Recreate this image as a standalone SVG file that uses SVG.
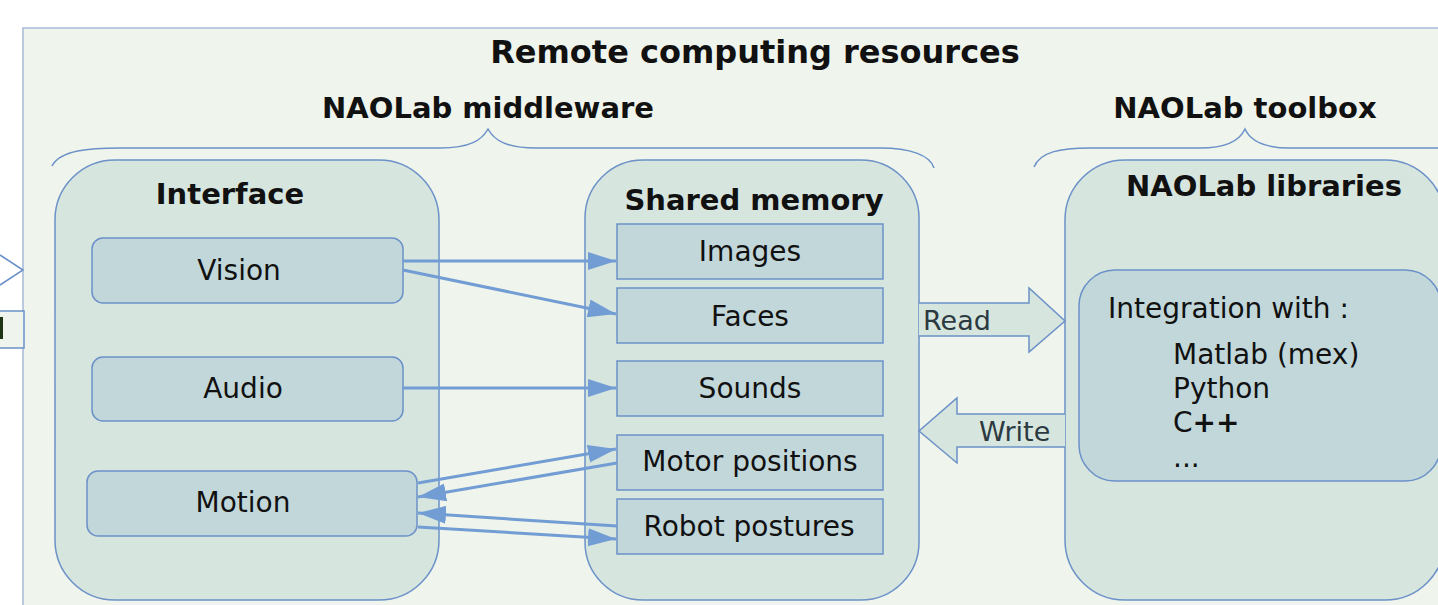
<svg xmlns="http://www.w3.org/2000/svg" width="1438" height="605" viewBox="0 0 1438 605">
<style>
.bg{fill:#eff4ec;stroke:#a6bbd9;stroke-width:1.5}
.cont{fill:#d7e5df;stroke:#6b91c8;stroke-width:1.5}
.box{fill:#c2d7da;stroke:#6b91c8;stroke-width:1.5}
.brace{fill:none;stroke:#6b91c8;stroke-width:1.5}
.conn{fill:none;stroke:#729dd4;stroke-width:3}
.fat{fill:#d7e5df;stroke:#6b91c8;stroke-width:1.5}
.h{font-family:"DejaVu Sans",Verdana,sans-serif;font-weight:bold;font-size:29px;fill:#111;text-anchor:middle}
.t{font-family:"DejaVu Sans",Verdana,sans-serif;font-size:28px;fill:#111;text-anchor:middle}
.l{font-family:"DejaVu Sans",Verdana,sans-serif;font-size:28px;fill:#111}
.rw{font-family:"DejaVu Sans",Verdana,sans-serif;font-size:27px;fill:#2b3a40}
</style>
<defs>
<marker id="ah" markerUnits="userSpaceOnUse" markerWidth="30" markerHeight="20" refX="28" refY="9" orient="auto">
<path d="M0,0 L28,9 L0,18 z" fill="#729dd4"/>
</marker>
</defs>
<rect width="1438" height="605" fill="#ffffff"/>
<g id="outer">
<rect class="bg" x="23" y="28" width="1440" height="600"/>
<text class="h" x="755" y="63" style="font-size:32px">Remote computing resources</text>
</g>
<g id="left-partial">
<path d="M0,255 L23,270 L0,285" fill="none" stroke="#6b91c8" stroke-width="1.5"/>
<rect x="-10" y="311" width="34" height="37" fill="#eff4ec" stroke="#6b91c8" stroke-width="1.5"/>
<rect x="0" y="317" width="3" height="22" fill="#1e3412"/>
</g>
<g id="middleware-label">
<text class="h" x="488" y="118">NAOLab middleware</text>
<path class="brace" d="M52,166 C60,150 90,148 120,148 L440,148 C470,148 482,140 488,129 C494,140 506,148 536,148 L880,148 C910,148 930,155 934,168"/>
</g>
<g id="toolbox-label">
<text class="h" x="1245" y="118">NAOLab toolbox</text>
<path class="brace" d="M1034,167 C1040,152 1060,148 1090,148 L1200,148 C1228,148 1240,140 1245,129 C1250,140 1262,148 1290,148 L1450,148"/>
</g>
<g id="interface">
<rect class="cont" x="55" y="160" width="384" height="440" rx="60" ry="60"/>
<text class="h" x="230" y="204">Interface</text>
</g>
<g id="vision">
<rect class="box" x="92" y="238" width="311" height="65" rx="11"/>
<text class="t" x="239" y="280">Vision</text>
</g>
<g id="audio">
<rect class="box" x="92" y="357" width="311" height="64" rx="11"/>
<text class="t" x="243" y="398">Audio</text>
</g>
<g id="motion">
<rect class="box" x="87" y="471" width="330" height="65" rx="11"/>
<text class="t" x="243" y="512">Motion</text>
</g>
<g id="shared-memory">
<rect class="cont" x="585" y="160" width="334" height="440" rx="58" ry="58"/>
<text class="h" x="754" y="210">Shared memory</text>
</g>
<g id="images">
<rect class="box" x="617" y="224" width="266" height="55"/>
<text class="t" x="750" y="261">Images</text>
</g>
<g id="faces">
<rect class="box" x="617" y="288" width="266" height="55"/>
<text class="t" x="750" y="326">Faces</text>
</g>
<g id="sounds">
<rect class="box" x="617" y="361" width="266" height="55"/>
<text class="t" x="750" y="398">Sounds</text>
</g>
<g id="motor-positions">
<rect class="box" x="617" y="435" width="266" height="55"/>
<text class="t" x="750" y="471">Motor positions</text>
</g>
<g id="robot-postures">
<rect class="box" x="617" y="499" width="266" height="55"/>
<text class="t" x="749" y="536">Robot postures</text>
</g>
<g id="libraries">
<rect class="cont" x="1065" y="160" width="380" height="440" rx="60" ry="60"/>
<text class="h" x="1264" y="196">NAOLab libraries</text>
</g>
<g id="integration">
<rect class="box" x="1079" y="270" width="362" height="211" rx="36" ry="36"/>
<text class="l" x="1108" y="318">Integration with :</text>
<text class="l" x="1173" y="364">Matlab (mex)</text>
<text class="l" x="1173" y="398">Python</text>
<text class="l" x="1173" y="432">C<tspan font-weight="bold">++</tspan></text>
<text class="l" x="1173" y="467">...</text>
</g>
<g id="connectors">
<line class="conn" x1="403" y1="261" x2="616" y2="261" marker-end="url(#ah)"/>
<line class="conn" x1="403" y1="270" x2="616" y2="314" marker-end="url(#ah)"/>
<line class="conn" x1="403" y1="388" x2="616" y2="388" marker-end="url(#ah)"/>
<line class="conn" x1="418" y1="483" x2="616" y2="449" marker-end="url(#ah)"/>
<line class="conn" x1="617" y1="463" x2="418" y2="497" marker-end="url(#ah)"/>
<line class="conn" x1="617" y1="526" x2="418" y2="513" marker-end="url(#ah)"/>
<line class="conn" x1="418" y1="527" x2="616" y2="539" marker-end="url(#ah)"/>
<path id="read-arrow" class="fat" d="M919,303 L1029,303 L1029,288 L1065,321 L1029,352 L1029,336 L919,336"/>
<text class="rw" x="923" y="330">Read</text>
<path id="write-arrow" class="fat" d="M1065,414 L957,414 L957,398 L919,431 L957,463 L957,447 L1065,447"/>
<text class="rw" x="979" y="441">Write</text>
</g>
</svg>
